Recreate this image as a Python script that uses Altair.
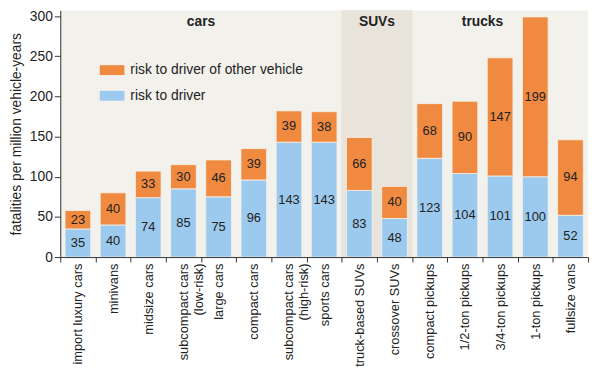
import altair as alt
import pandas as pd

categories = ["import luxury cars", "minivans", "midsize cars", "subcompact cars\n(low-risk)",
              "large cars", "compact cars", "subcompact cars\n(high-risk)", "sports cars",
              "truck-based SUVs", "crossover SUVs", "compact pickups", "1/2-ton pickups",
              "3/4-ton pickups", "1-ton pickups", "fullsize vans"]
groups = ["cars"] * 8 + ["SUVs"] * 2 + ["trucks"] * 5
risk_driver = [35, 40, 74, 85, 75, 96, 143, 143, 83, 48, 123, 104, 101, 100, 52]
risk_other = [23, 40, 33, 30, 46, 39, 39, 38, 66, 40, 68, 90, 147, 199, 94]

series_names = ["risk to driver of other vehicle", "risk to driver"]
series_colors = ["#ef8a40", "#9ccaee"]

group_labels = ["cars", "SUVs", "trucks"]
group_anchor = ["large cars", "crossover SUVs", "3/4-ton pickups"]
group_band_pos = [0.0, 0.0, 0.3]

YMAX = 307

rows = []
for c, g, d, o in zip(categories, groups, risk_driver, risk_other):
    rows.append({"cat": c, "group": g, "series": "risk to driver", "value": d,
                 "y0": 0, "y1": d, "mid": d / 2, "order": 0})
    rows.append({"cat": c, "group": g, "series": "risk to driver of other vehicle", "value": o,
                 "y0": d, "y1": d + o, "mid": d + o / 2, "order": 1})
df = pd.DataFrame(rows)

bg_df = pd.DataFrame({"cat": categories, "group": groups})
bg_df = bg_df[bg_df["group"] == "SUVs"]

lab_df = pd.DataFrame({"label": group_labels, "cat": group_anchor, "bp": group_band_pos})

xscale = alt.Scale(domain=categories, paddingInner=0, paddingOuter=0)
yscale = alt.Scale(domain=[0, YMAX], nice=False)

xaxis = alt.Axis(title=None, labelAngle=-90, labelAlign="right", labelBaseline="middle",
                 labelExpr="split(datum.label, '\\n')", labelFontSize=13,
                 labelFont="Liberation Sans", labelColor="#222", labelPadding=1,
                 tickBand="extent", tickSize=5, tickColor="#333", domainColor="#333",
                 labelLineHeight=15, labelLimit=0)
yaxis = alt.Axis(title="fatalities per million vehicle-years", values=[0, 50, 100, 150, 200, 250, 300],
                 labelFontSize=14, labelFont="Liberation Sans", labelColor="#222",
                 titleFontSize=14, titleFont="Liberation Sans", titleFontWeight="normal",
                 titleColor="#222", tickSize=6, tickColor="#333", domainColor="#333",
                 grid=False, titlePadding=6)

bg = alt.Chart(bg_df).mark_rect(color="#e8e4dc", stroke="#e8e4dc", strokeWidth=0.6).encode(
    x=alt.X("cat:N", scale=xscale, sort=categories, axis=xaxis),
    y=alt.datum(0, scale=yscale),
    y2=alt.datum(YMAX),
)

bars = alt.Chart(df).mark_bar(width={"band": 0.73}, stroke="#f6f2ea", strokeWidth=0.8).encode(
    x=alt.X("cat:N", scale=xscale, sort=categories, axis=xaxis),
    y=alt.Y("y0:Q", scale=yscale, axis=yaxis),
    y2="y1:Q",
    color=alt.Color("series:N", scale=alt.Scale(domain=series_names, range=series_colors),
                    legend=alt.Legend(title=None, orient="none", legendX=40, legendY=48,
                                      symbolType="M-1,-0.4H1V0.4H-1Z", symbolSize=625,
                                      symbolStrokeWidth=0, symbolOpacity=1,
                                      labelFontSize=14, labelFont="Liberation Sans",
                                      labelColor="#222", rowPadding=6, padding=0,
                                      labelOffset=6, labelLimit=0)),
    order="order:Q",
)

texts = alt.Chart(df).mark_text(fontSize=13, font="Liberation Sans", color="#222").encode(
    x=alt.X("cat:N", scale=xscale, sort=categories),
    y=alt.Y("mid:Q", scale=yscale),
    text="value:Q",
)

glabels = alt.Chart(lab_df).mark_text(fontSize=14, font="Liberation Sans", fontWeight="bold",
                                      color="#222").encode(
    x=alt.X("cat:N", scale=xscale, sort=categories, bandPosition=0),
    y=alt.datum(293, scale=yscale),
    text="label:N",
)

chart = alt.layer(bg, bars, texts, glabels).properties(
    width=535, height=250,
    autosize=alt.AutoSizeParams(type="none"),
    padding={"left": 53, "top": 0, "right": 4, "bottom": 114},
).configure_view(fill="#f3f1ec", stroke=None)

chart.save("out.html", embed_options={"renderer": "svg", "actions": False})
